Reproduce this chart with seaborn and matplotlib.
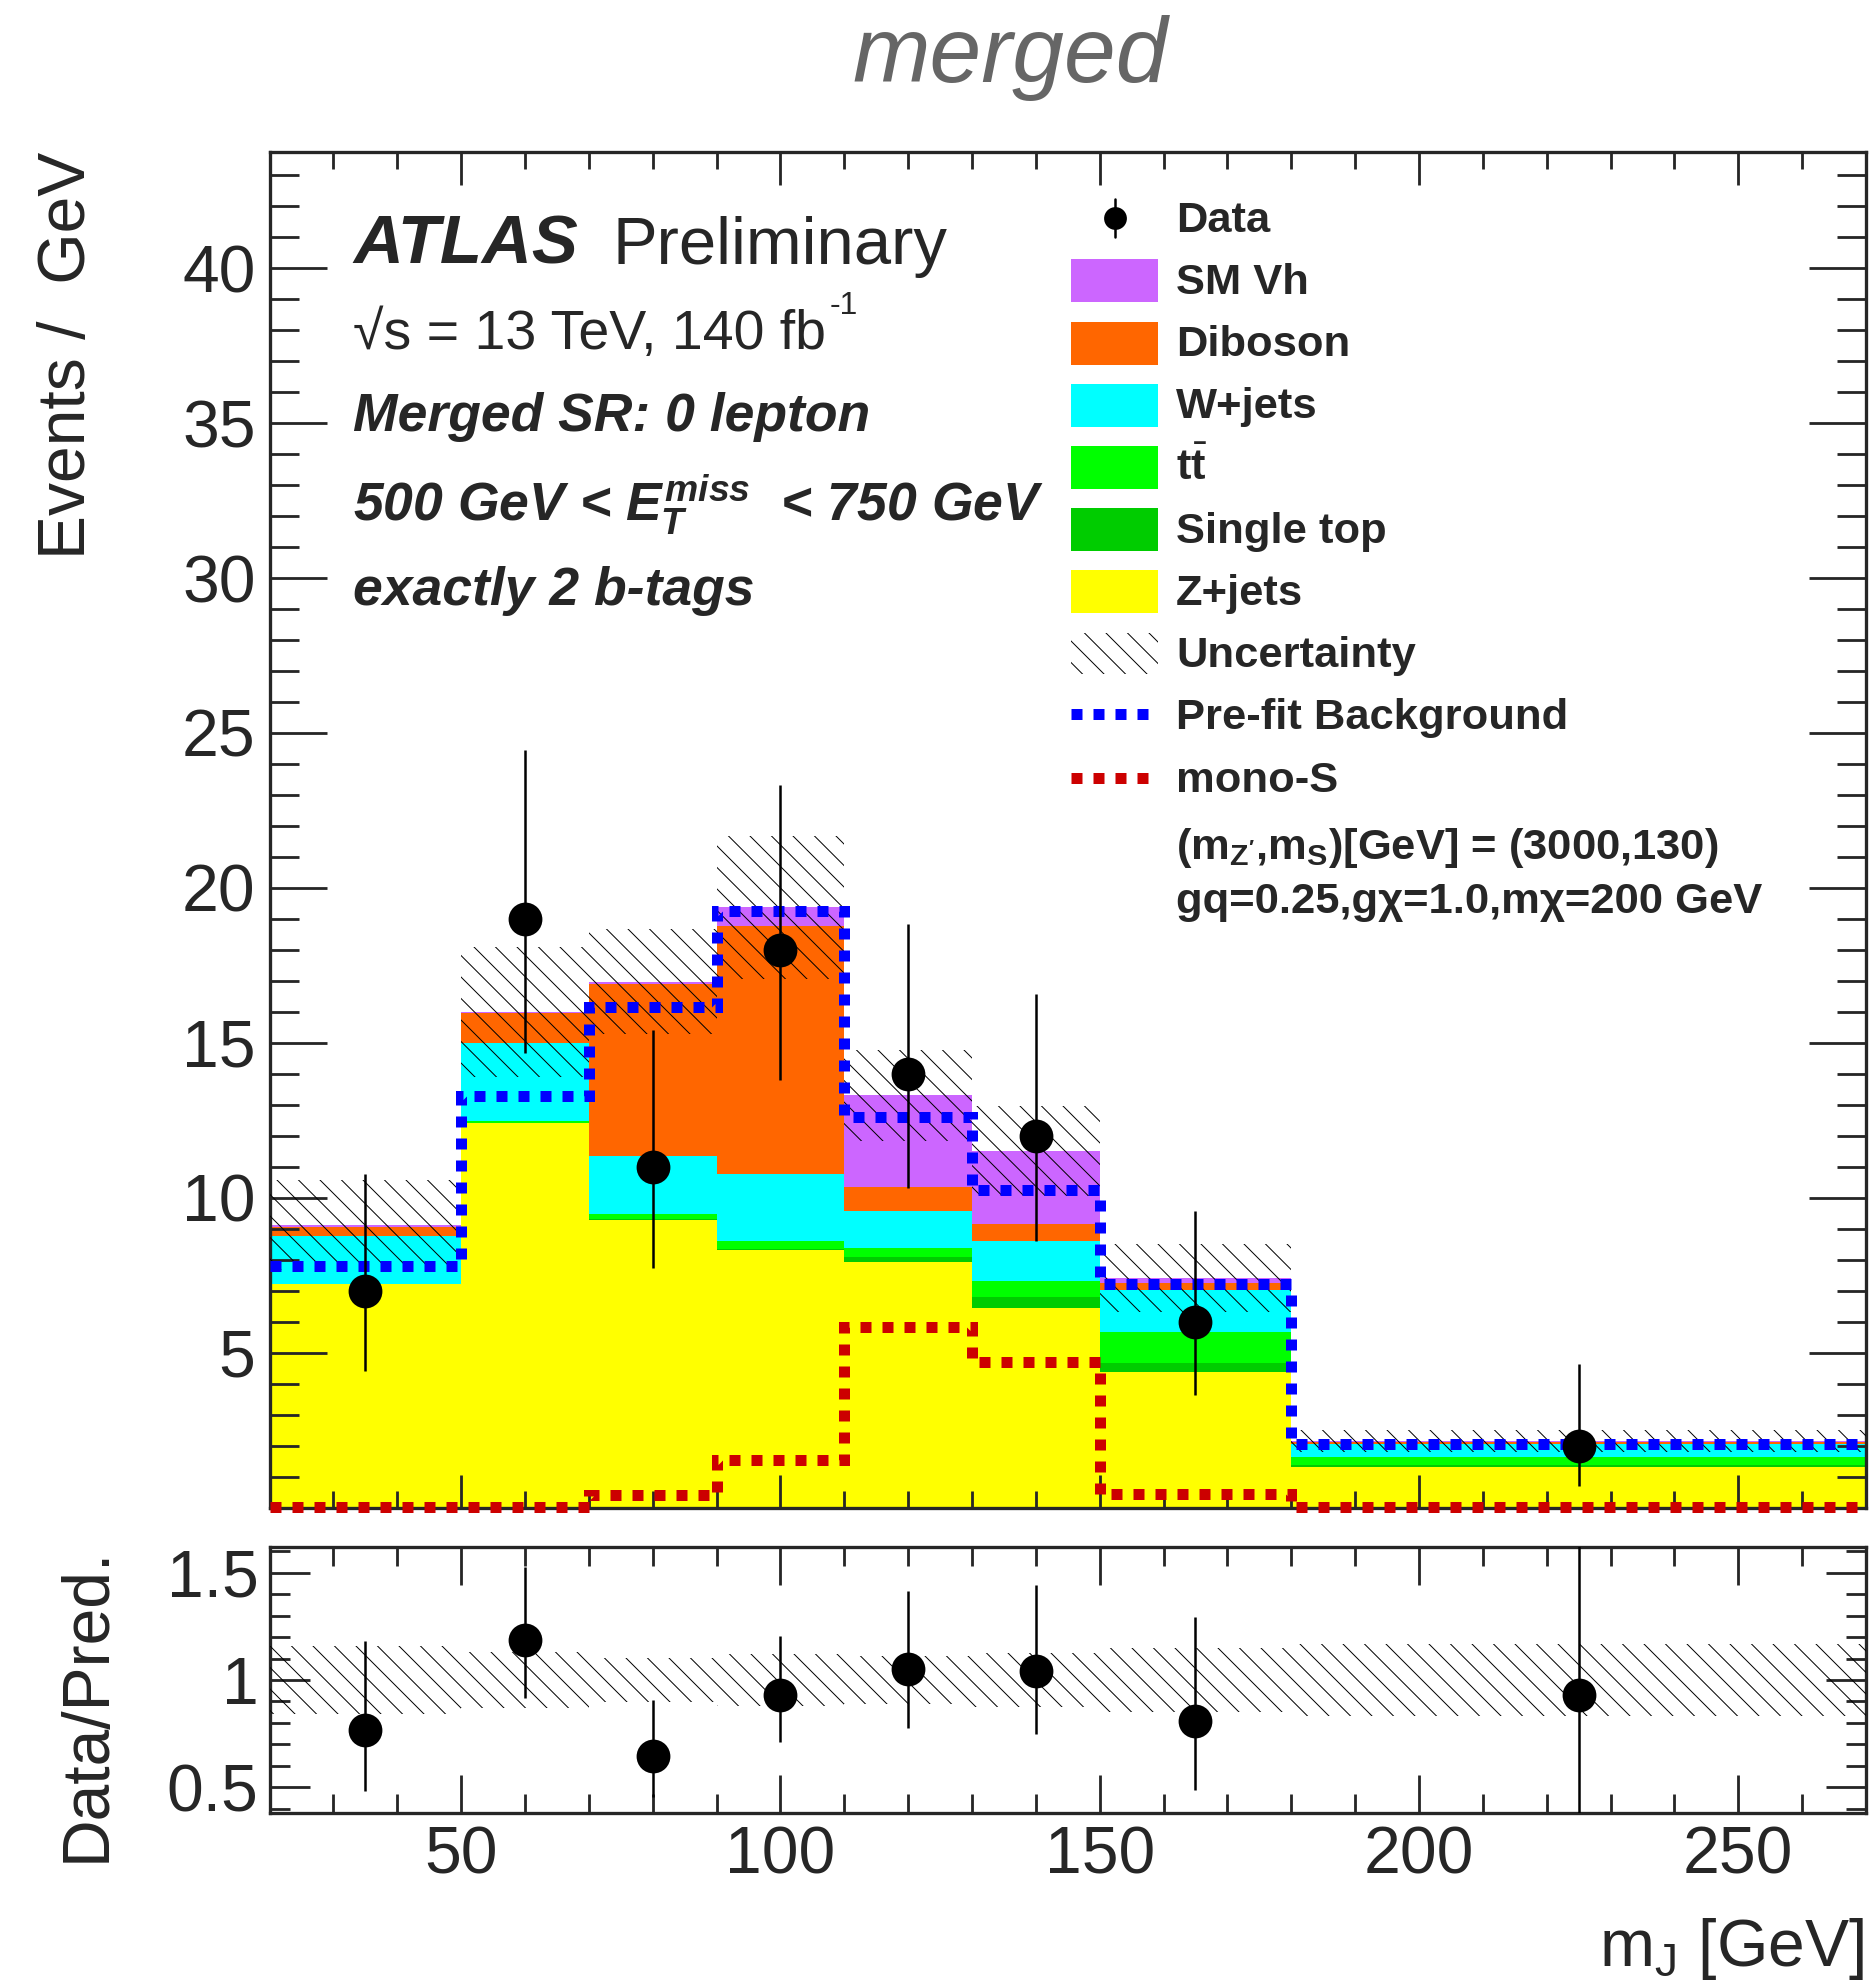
import numpy as np
import pandas as pd
import matplotlib
matplotlib.use("Agg")
import matplotlib.pyplot as plt
import seaborn as sns
from matplotlib.ticker import MultipleLocator, FixedLocator, FixedFormatter
from matplotlib.patches import Rectangle
from matplotlib.lines import Line2D

# ---------------- data ----------------
bin_edges = [20, 50, 70, 90, 110, 130, 150, 180, 270]
bin_centers = [35, 60, 80, 100, 120, 140, 165, 225]

# post-fit background components (events per bin)
sm_vh      = [0.06, 0.05, 0.07, 0.59, 2.97, 2.35, 0.17, 0.03]
diboson    = [0.28, 0.95, 5.54, 8.03, 0.75, 0.55, 0.23, 0.07]
w_jets     = [1.57, 2.52, 1.89, 2.15, 1.22, 1.29, 1.33, 0.41]
ttbar      = [0.00, 0.06, 0.16, 0.27, 0.27, 0.50, 1.00, 0.28]
single_top = [0.00, 0.02, 0.02, 0.03, 0.17, 0.38, 0.32, 0.05]
z_jets     = [7.20, 12.40, 9.29, 8.30, 7.92, 6.43, 4.36, 1.31]
bkg_unc    = [1.46, 2.10, 1.70, 2.30, 1.48, 1.45, 1.10, 0.36]

prefit_bkg = [7.79, 13.27, 16.15, 19.25, 12.60, 10.26, 7.20, 2.06]
mono_s     = [0.03, 0.03, 0.40, 1.53, 5.84, 4.70, 0.42, 0.03]

data_counts = [7, 19, 11, 18, 14, 12, 6, 2]
data_err_lo = [2.58, 4.32, 3.27, 4.20, 3.70, 3.41, 2.38, 1.29]
data_err_hi = [3.77, 5.44, 4.42, 5.32, 4.83, 4.56, 3.58, 2.64]

process_names = ["SM Vh", "Diboson", "W+jets", "ttbar", "Single top", "Z+jets"]
process_values = [sm_vh, diboson, w_jets, ttbar, single_top, z_jets]
process_colors = {"SM Vh": "#cc66ff", "Diboson": "#ff6600", "W+jets": "#00ffff",
                  "ttbar": "#00ff00", "Single top": "#00cc00", "Z+jets": "#ffff00"}

# ---------------- geometry helpers ----------------
W, H, DPI = 1869, 1980, 129


def fx(px):
    return px / W


def fy(py):
    return 1.0 - py / H


def pt(px):
    return px * 72.0 / DPI


sns.set_style("ticks")
plt.rcParams["font.family"] = ["Liberation Sans", "DejaVu Sans"]
plt.rcParams["mathtext.fontset"] = "custom"
plt.rcParams["mathtext.rm"] = "Liberation Sans"
plt.rcParams["mathtext.it"] = "Liberation Sans:italic:bold"
plt.rcParams["mathtext.bf"] = "Liberation Sans:bold"
plt.rcParams["hatch.linewidth"] = 0.55
plt.rcParams["hatch.color"] = "black"

fig = plt.figure(figsize=(W / DPI, H / DPI), dpi=DPI)
ax_l, ax_r = 269.5, 1866.0
ax = fig.add_axes([fx(ax_l), fy(1507.5), (ax_r - ax_l) / W, (1507.5 - 151.7) / H])
rax = fig.add_axes([fx(ax_l), fy(1813.3), (ax_r - ax_l) / W, (1813.3 - 1546.7) / H])

edges = np.array(bin_edges, dtype=float)
widths = np.diff(edges)
total = np.sum(np.array(process_values), axis=0)
unc = np.array(bkg_unc)

# ---------------- stacked backgrounds ----------------
rows = []
for name, vals in zip(process_names, process_values):
    for c, v in zip(bin_centers, vals):
        rows.append({"mJ": c, "events": v, "process": name})
df = pd.DataFrame(rows)

sns.histplot(data=df, x="mJ", weights="events", hue="process",
             hue_order=process_names, palette=process_colors,
             multiple="stack", bins=bin_edges, element="step", fill=True,
             linewidth=0, alpha=1, legend=False, ax=ax)

HATCH = "\\\\"
ax.bar(edges[:-1], 2 * unc, width=widths, bottom=total - unc, align="edge",
       fill=False, hatch=HATCH, linewidth=0, edgecolor="black", zorder=3)

dot = (0, (1, 1))
ax.stairs(prefit_bkg, edges, baseline=None, color="#0000ff", linewidth=pt(11),
          linestyle=dot, zorder=4)
ax.stairs(mono_s, edges, baseline=None, color="#cc0000", linewidth=pt(11),
          linestyle=dot, zorder=4, clip_on=False)

ax.errorbar(bin_centers, data_counts, yerr=[data_err_lo, data_err_hi], fmt="o",
            color="black", ms=pt(32), elinewidth=pt(2.5), capsize=0, zorder=6)

ax.set_xlim(20, 270)
ax.set_ylim(0, 43.76)
ax.set_xlabel("")
ax.set_ylabel("")
ax.xaxis.set_major_locator(MultipleLocator(50))
ax.xaxis.set_minor_locator(MultipleLocator(10))
ax.yaxis.set_major_locator(FixedLocator([5, 10, 15, 20, 25, 30, 35, 40]))
ax.yaxis.set_minor_locator(MultipleLocator(1))

# ---------------- ratio panel ----------------
ratio = np.array(data_counts) / total
rax.bar(edges[:-1], 2 * unc / total, width=widths, bottom=1 - unc / total,
        align="edge", fill=False, hatch=HATCH, linewidth=0, edgecolor="black",
        zorder=3)
rax.errorbar(bin_centers, ratio,
             yerr=[np.array(data_err_lo) / total, np.array(data_err_hi) / total],
             fmt="o", color="black", ms=pt(32), elinewidth=pt(2.5), capsize=0,
             zorder=6)
rax.set_xlim(20, 270)
rax.set_ylim(0.38, 1.62)
rax.xaxis.set_major_locator(MultipleLocator(50))
rax.xaxis.set_minor_locator(MultipleLocator(10))
rax.yaxis.set_major_locator(FixedLocator([0.5, 1.0, 1.5]))
rax.yaxis.set_major_formatter(FixedFormatter(["0.5", "1", "1.5"]))
rax.yaxis.set_minor_locator(MultipleLocator(0.1))

tick_fs = pt(66)
for a in (ax, rax):
    a.set_axisbelow(False)
    for s in a.spines.values():
        s.set_linewidth(pt(3.3))
        s.set_visible(True)
    a.tick_params(which="both", direction="in", top=True, right=True,
                  width=pt(2.8), labelsize=tick_fs)
ax.tick_params(axis="y", which="major", length=pt(57), pad=pt(14))
ax.tick_params(axis="y", which="minor", length=pt(29))
ax.tick_params(axis="x", which="major", length=pt(33))
ax.tick_params(axis="x", which="minor", length=pt(17))
ax.tick_params(labelbottom=False)
rax.tick_params(axis="y", which="major", length=pt(40), pad=pt(11))
rax.tick_params(axis="y", which="minor", length=pt(20))
rax.tick_params(axis="x", which="major", length=pt(38), pad=pt(12))
rax.tick_params(axis="x", which="minor", length=pt(19))
rax.set_xlabel("")
rax.set_ylabel("")

# ---------------- axis titles ----------------
fig.text(fx(85), fy(152), "Events /  GeV", rotation=90, rotation_mode="anchor",
         ha="right", va="baseline", fontsize=pt(66))
fig.text(fx(105), fy(1547), "Data/Pred.", rotation=90, rotation_mode="anchor",
         ha="right", va="baseline", fontsize=pt(66))
fig.text(fx(1864), fy(1966), r"m$_{\mathrm{J}}$ [GeV]", ha="right",
         va="baseline", fontsize=pt(66))
fig.text(fx(1010), fy(82), "merged", ha="center", va="baseline",
         style="italic", color="#666666", fontsize=pt(93))

# ---------------- labels ----------------
fig.text(fx(353), fy(263.5), "ATLAS", weight="bold", style="italic",
         fontsize=pt(69), va="baseline")
fig.text(fx(612), fy(263.5), "Preliminary", fontsize=pt(67), va="baseline")
lumi = fig.text(fx(353), fy(349.5), "√s = 13 TeV, 140 fb", fontsize=pt(55.5),
                va="baseline")
fig.canvas.draw()
lumi_bb = lumi.get_window_extent()
fig.text((lumi_bb.x1 + 4) / W, fy(349.5 - 36), "-1", fontsize=pt(32),
         va="baseline")

info_kw = dict(weight="bold", style="italic", fontsize=pt(53.5), va="baseline")
fig.text(fx(353), fy(431), "Merged SR: 0 lepton", **info_kw)
fig.text(fx(353), fy(521), r"500 GeV < $E_{T}^{miss}$  < 750 GeV", **info_kw)
fig.text(fx(353), fy(605), "exactly 2 b-tags", **info_kw)

# ---------------- legend ----------------
leg_fs = pt(43.5)
text_x = 1176
box_x0, box_x1 = 1071, 1158
row_base = [231.7 + 62.2 * i for i in range(10)]
leg_labels = ["Data", "SM Vh", "Diboson", "W+jets", r"t$\bar{\mathbf{t}}$",
              "Single top", "Z+jets", "Uncertainty", "Pre-fit Background",
              "mono-S"]
for yb, lab in zip(row_base, leg_labels):
    fig.text(fx(text_x), fy(yb), lab, weight="bold", fontsize=leg_fs,
             va="baseline")
fig.text(fx(text_x), fy(859.5),
         r"(m$_{\mathbf{Z'}}$,m$_{\mathbf{S}}$)[GeV] = (3000,130)",
         weight="bold", fontsize=leg_fs, va="baseline")
fig.text(fx(text_x), fy(913), "gq=0.25,gχ=1.0,mχ=200 GeV",
         weight="bold", fontsize=leg_fs, va="baseline")

# data symbol
cx = 1115
cy = row_base[0] - 13.4
fig.add_artist(Line2D([fx(cx), fx(cx)], [fy(cy - 19), fy(cy + 19)],
                      transform=fig.transFigure, color="black", lw=pt(2.5)))
fig.add_artist(Line2D([fx(cx)], [fy(cy)], transform=fig.transFigure,
                      marker="o", ms=pt(21), color="black", lw=0))

# filled boxes
for i, name in enumerate(process_names, start=1):
    yc = row_base[i] - 13
    fig.add_artist(Rectangle((fx(box_x0), fy(yc + 21.5)), (box_x1 - box_x0) / W,
                             43 / H, transform=fig.transFigure,
                             facecolor=process_colors[name], edgecolor="none"))
# hatched box
yc = row_base[7] - 14
fig.add_artist(Rectangle((fx(box_x0), fy(yc + 20.5)), (box_x1 - box_x0) / W,
                         41 / H, transform=fig.transFigure, fill=False,
                         hatch=HATCH, linewidth=0, edgecolor="black"))
# dotted lines
for yi, col in ((row_base[8] - 15, "#0000ff"), (row_base[9] - 13.5, "#cc0000")):
    fig.add_artist(Line2D([fx(box_x0), fx(box_x1)], [fy(yi), fy(yi)],
                          transform=fig.transFigure, color=col, lw=pt(11),
                          linestyle=dot, dash_capstyle="butt"))

fig.savefig("out.png", dpi=DPI)
